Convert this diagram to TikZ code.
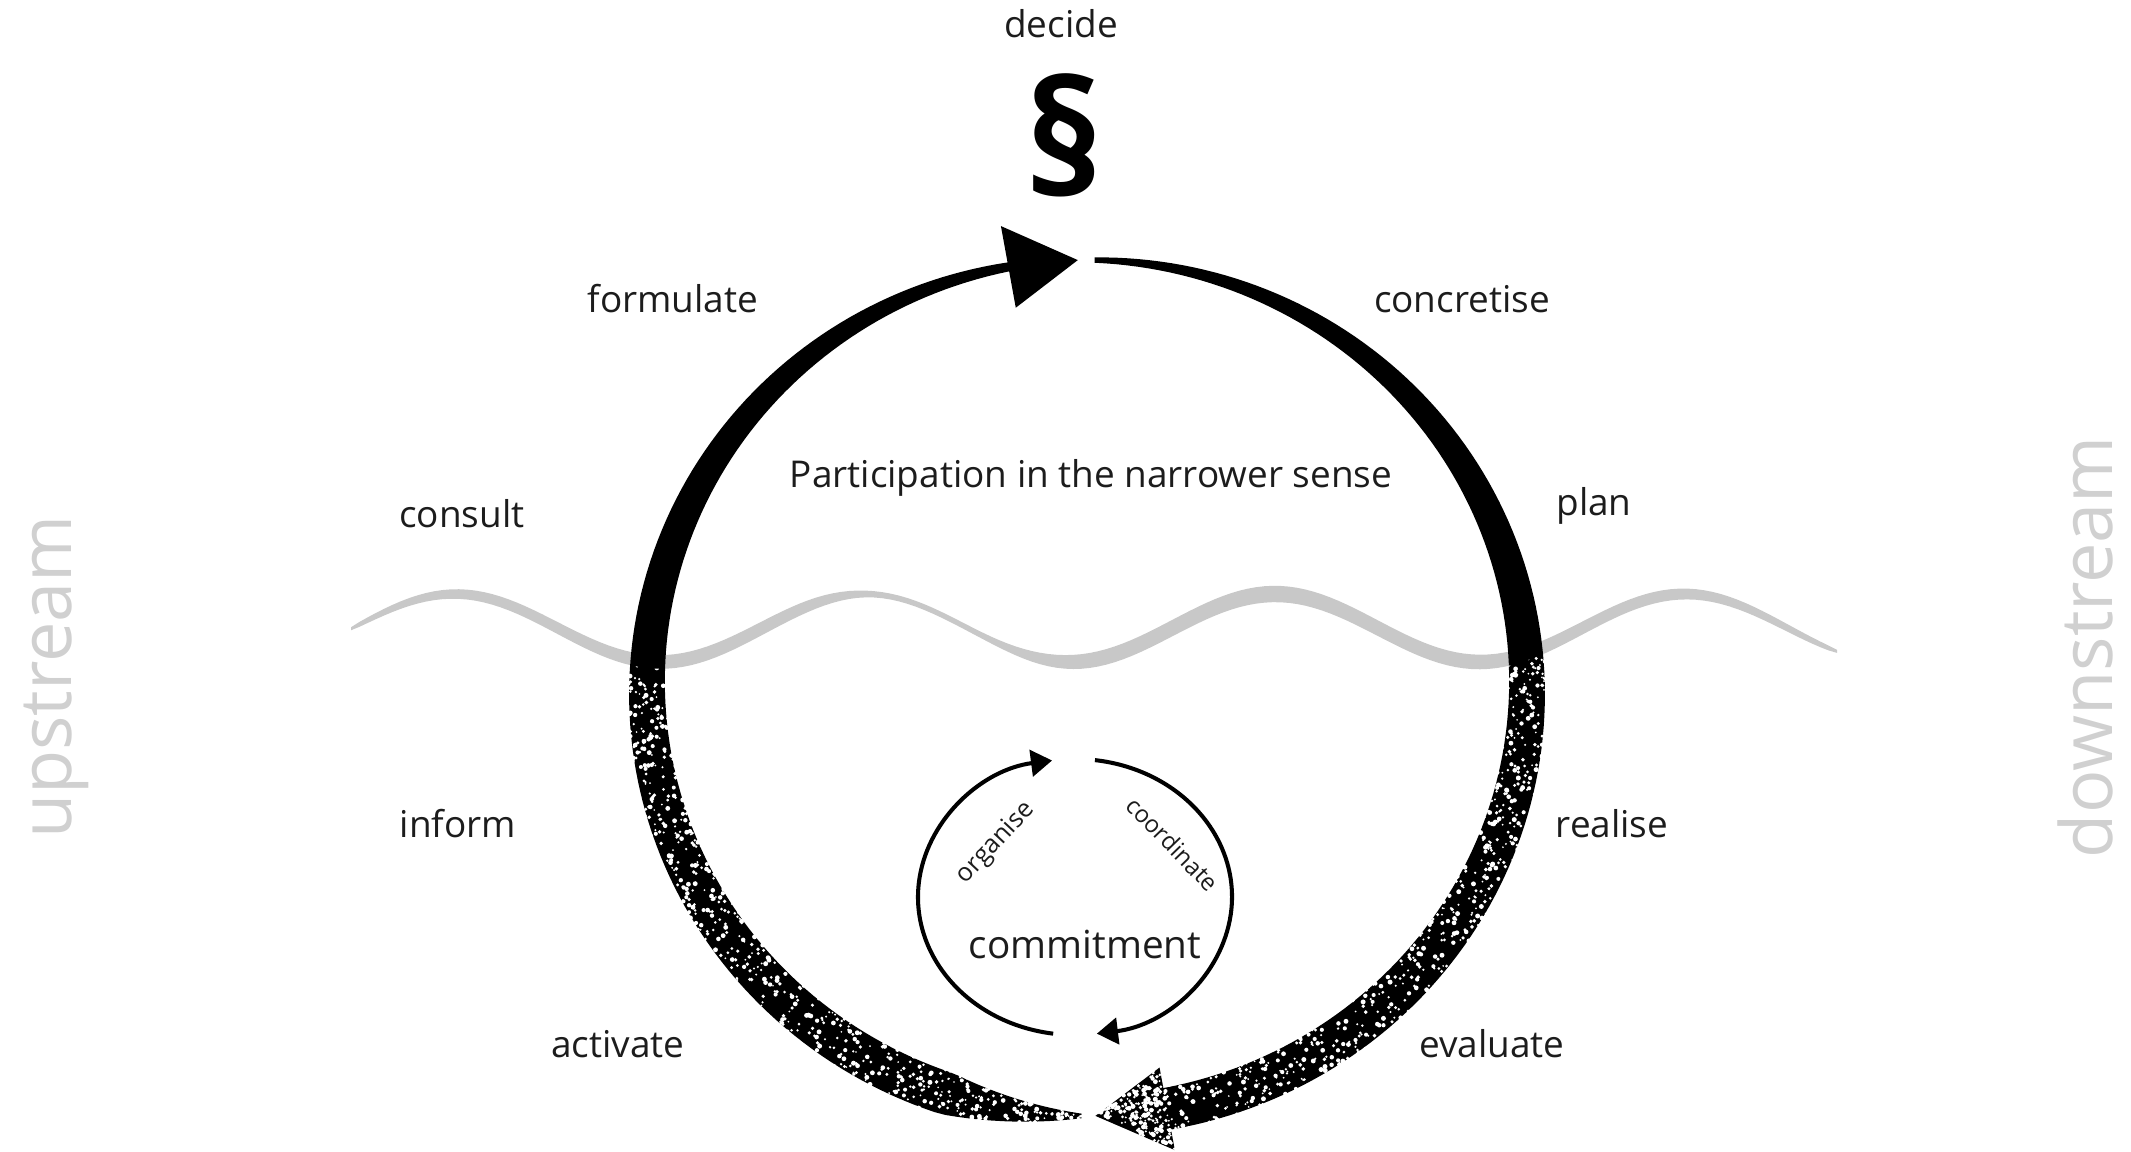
\documentclass[tikz,border=0pt]{standalone}
\usepackage{fontspec}
\setmainfont{Open Sans}
\usepackage{tikz}
\usetikzlibrary{arrows.meta}
\definecolor{ink}{RGB}{0,0,0}
\definecolor{txt}{RGB}{28,28,28}
\definecolor{wavegray}{RGB}{200,200,200}
\definecolor{sidegray}{RGB}{208,208,208}

\begin{document}
\begin{tikzpicture}[x=0.01cm,y=0.01cm,
  declare function={
    tl(\t)=(5+38*sin(0.6*(\t-90)))*min(1,(269.5-\t)/20+0.1);
    tr(\t)=5+38*sin(0.6*(90-\t));
    wv(\x)=524+34*cos((\x-455)/410*360);
    wt(\x)=(3+14*sqrt(abs(sin((\x-351)/1486*180))))*(1-0.65/(1+((\x-930)/110)^4));},
  lab/.style={text=txt,font=\fontsize{10.5}{12}\selectfont,inner sep=0pt},
  small/.style={lab,font=\fontsize{7.2}{8}\selectfont},
  side/.style={text=sidegray,font=\fontsize{20.5}{24}\selectfont,rotate=90,inner sep=0pt},
  cyc/.style={ink,line width=1.15pt,-{Triangle[length=6pt,width=7.5pt]}}]
  \useasboundingbox (0,0) rectangle (2131,1152);

  % water line
  \fill[wavegray] plot[domain=351:1837,samples=180] (\x,{wv(\x)+wt(\x)/2})
    -- plot[domain=1837:351,samples=180] (\x,{wv(\x)-wt(\x)/2}) -- cycle;

  % big cycle
  \coordinate (hub) at (1087,464);
  \begin{scope}[shift={(hub)}]
    \fill[ink] plot[domain=99:269.3,samples=120,variable=\t] ({(440+tl(\t)/2)*cos(\t)},{(428+tl(\t)/2)*sin(\t)})
      -- plot[domain=269.3:99,samples=120,variable=\t] ({(440-tl(\t)/2)*cos(\t)},{(428-tl(\t)/2)*sin(\t)}) -- cycle;
    \fill[ink] plot[domain=89:-80.5,samples=120,variable=\t] ({(440+tr(\t)/2)*cos(\t)},{(428+tr(\t)/2)*sin(\t)})
      -- plot[domain=-80.5:89,samples=120,variable=\t] ({(440-tr(\t)/2)*cos(\t)},{(428-tr(\t)/2)*sin(\t)}) -- cycle;
    \fill[ink] (100.3:481.5 and 469.5) -- (91.2:440 and 428) -- (100.3:398.5 and 386.5) -- cycle;
    \fill[ink] (-79.5:482 and 470) -- (-88.9:440 and 428) -- (-79.5:398 and 386) -- cycle;
  \end{scope}

  % charcoal below the water
  \begin{scope}
    \clip plot[domain=351:1837,samples=120] (\x,{wv(\x)-wt(\x)/2}) -- (1837,-10) -- (351,-10) -- cycle;
    \begin{scope}[shift={(hub)}]
      \pgfmathsetseed{42}
      \foreach \i in {1,...,1300}{
        \pgfmathsetmacro\sa{172+rnd*196}
        \pgfmathsetmacro\sw{\sa<270 ? tl(\sa) : tr(\sa-360)}
        \pgfmathsetmacro\so{(rnd-0.5)*\sw*1.12}
        \pgfmathsetmacro\sr{0.9+rnd*1.6}
        \fill[white] ({(440+\so)*cos(\sa)},{(428+\so)*sin(\sa)}) circle[radius=\sr];
      }
      \foreach \i in {1,...,140}{
        \pgfmathsetmacro\su{rnd}
        \pgfmathsetmacro\sv{rnd}
        \pgfmathsetmacro\pu{(\su+\sv>1) ? 1-\su : \su}
        \pgfmathsetmacro\pv{(\su+\sv>1) ? 1-\sv : \sv}
        \pgfmathsetmacro\sr{0.9+rnd*1.6}
        \fill[white] ({8.5+\pu*80+\pv*63},{-427.9-\pu*34+\pv*48}) circle[radius=\sr];
      }
    \end{scope}
  \end{scope}

  % small cycle
  \coordinate (inner) at (1075,255);
  \draw[cyc] (inner) ++(262:157 and 138) arc[start angle=262,end angle=98.4,x radius=157,y radius=138];
  \draw[cyc] (inner) ++(82.7:157 and 138) arc[start angle=82.7,end angle=-82,x radius=157,y radius=138];

  % labels
  \node[lab] (decide) at (1061,1128) {decide};
  \node[text=ink,font=\fontsize{45}{45}\selectfont\bfseries,inner sep=0pt] (para) at (1064,1017) {\S};
  \node[lab] (formulate) at (673,853) {formulate};
  \node[lab] (concretise) at (1462,853) {concretise};
  \node[lab] (narrow) at (1091,674) {Participation in the narrower sense};
  \node[lab] (consult) at (462,638) {consult};
  \node[lab] (plan) at (1594,646) {plan};
  \node[lab] (inform) at (458,328) {inform};
  \node[lab] (realise) at (1612,328) {realise};
  \node[lab] (activate) at (618,108) {activate};
  \node[lab] (evaluate) at (1492,108) {evaluate};
  \node[lab,font=\fontsize{11}{12}\selectfont] (commit) at (1085,208) {commitment};
  \node[small,rotate=47] (organise) at (996,309) {organise};
  \node[small,rotate=-46,font=\fontsize{6.8}{8}\selectfont] (coordinate) at (1173,308) {coordinate};
  \node[side] (upstream) at (56,475) {upstream};
  \node[side] (downstream) at (2085,505) {downstream};
\end{tikzpicture}
\end{document}
